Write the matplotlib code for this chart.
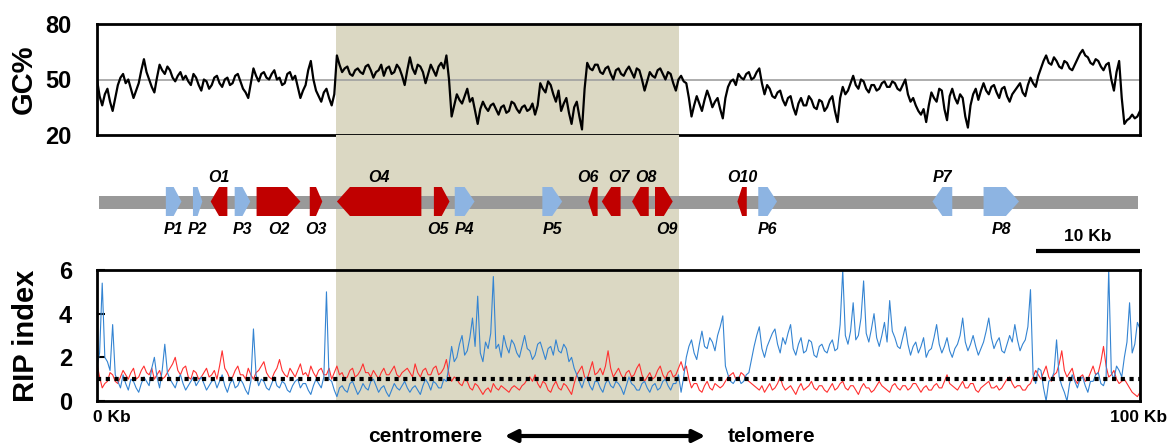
import numpy as np
import matplotlib
matplotlib.use('Agg')
import matplotlib.pyplot as plt
from matplotlib.patches import Polygon, Rectangle, FancyArrowPatch

plt.rcParams['font.family'] = ['Liberation Sans', 'DejaVu Sans']
plt.rcParams['font.weight'] = 'bold'

W, H = 1168, 445

# ---- data -------------------------------------------------------------
# GC% every 0.25 Kb (0 .. 100 Kb), one row = 10 Kb
gc = [50, 41, 36, 42, 45, 38, 33, 40, 47, 51, 53, 48, 50, 45, 40, 44, 48, 55, 61, 54,
      50, 46, 43, 51, 58, 55, 53, 57, 55, 51, 49, 52, 54, 50, 52, 49, 47, 53, 51, 47,
      44, 50, 49, 45, 47, 51, 52, 48, 46, 50, 51, 47, 48, 52, 53, 49, 45, 43, 40, 48,
      56, 52, 49, 53, 54, 51, 50, 53, 55, 50, 51, 47, 48, 53, 54, 50, 52, 46, 40, 44,
      47, 55, 60, 50, 44, 41, 38, 43, 45, 40, 36, 42, 63, 58, 54, 56, 57, 53, 52, 55,
      56, 54, 53, 57, 58, 55, 51, 54, 55, 58, 52, 56, 57, 53, 54, 58, 56, 52, 47, 55,
      62, 56, 53, 58, 57, 54, 48, 53, 58, 55, 52, 57, 59, 56, 63, 50, 30, 36, 42, 39,
      37, 41, 45, 38, 40, 33, 26, 34, 38, 35, 33, 36, 37, 34, 31, 35, 36, 32, 33, 38,
      37, 34, 32, 35, 36, 33, 34, 37, 31, 36, 48, 45, 43, 49, 47, 42, 38, 44, 33, 37,
      40, 32, 26, 35, 38, 30, 23, 45, 59, 56, 55, 58, 58, 54, 53, 56, 57, 53, 50, 55,
      56, 53, 52, 55, 57, 54, 51, 56, 55, 50, 44, 49, 54, 52, 51, 55, 56, 53, 50, 54,
      53, 48, 44, 50, 52, 49, 48, 40, 30, 36, 41, 37, 33, 39, 44, 40, 35, 38, 40, 34,
      29, 40, 46, 49, 50, 47, 53, 51, 50, 53, 54, 50, 51, 54, 56, 48, 42, 47, 45, 41,
      40, 43, 44, 39, 36, 40, 41, 35, 31, 37, 40, 36, 36, 41, 39, 35, 34, 39, 38, 33,
      35, 39, 41, 33, 27, 40, 46, 42, 44, 48, 52, 47, 45, 50, 49, 45, 43, 47, 47, 44,
      45, 48, 49, 46, 46, 49, 48, 45, 44, 47, 50, 42, 38, 40, 36, 33, 31, 34, 27, 36,
      43, 40, 38, 45, 44, 34, 28, 41, 45, 40, 37, 42, 40, 30, 24, 36, 42, 45, 39, 44,
      48, 44, 42, 46, 47, 43, 40, 45, 46, 41, 38, 42, 44, 46, 48, 43, 41, 47, 51, 48,
      46, 52, 56, 60, 63, 59, 58, 62, 60, 57, 56, 60, 59, 56, 55, 58, 61, 64, 66, 63,
      62, 59, 58, 61, 60, 57, 55, 58, 59, 50, 44, 54, 60, 40, 26, 28, 29, 31, 29, 30,
      33]

# RIP index every 0.25 Kb (blue and red series)
rip_blue = [1.6, 2.2, 5.4, 2.0, 1.8, 1.4, 3.5, 1.2, 0.9, 0.6, 1.2, 0.8, 0.5, 1.0, 0.9, 0.6, 0.4, 0.8, 1.1, 0.9,
            0.7, 1.5, 2.0, 1.1, 0.6, 1.4, 2.6, 1.3, 1.0, 0.8, 0.6, 1.0, 1.2, 0.8, 0.5, 0.7, 0.9, 1.1, 0.7, 0.9,
            1.1, 0.8, 0.5, 0.7, 0.9, 1.0, 0.6, 0.9, 1.2, 0.7, 0.4, 0.8, 1.0, 0.6, 0.7, 1.0, 0.8, 0.5, 0.3, 0.9,
            3.3, 1.2, 0.7, 1.0, 0.9, 0.6, 0.5, 0.8, 1.1, 0.7, 0.6, 0.9, 0.8, 0.5, 0.4, 0.7, 0.9, 1.0, 0.6, 0.8,
            0.8, 0.5, 0.3, 0.7, 1.0, 0.8, 0.6, 1.1, 5.0, 1.0, 0.9, 0.5, 0.2, 0.6, 0.7, 0.5, 0.4, 0.8, 0.9, 0.6,
            0.3, 0.5, 0.8, 0.6, 0.5, 0.9, 1.0, 0.7, 0.4, 0.6, 0.7, 0.4, 0.2, 0.5, 0.8, 0.6, 0.5, 0.7, 0.9, 0.6,
            0.4, 0.6, 0.7, 0.5, 0.3, 0.7, 1.0, 0.8, 0.5, 0.9, 0.8, 0.6, 0.6, 1.0, 0.9, 1.6, 2.5, 1.8, 2.0, 2.6,
            3.0, 2.1, 2.3, 2.9, 3.8, 2.5, 4.8, 2.2, 1.8, 2.7, 2.4, 3.1, 5.7, 2.4, 2.6, 2.0, 3.0, 2.5, 2.2, 2.8,
            2.6, 2.2, 2.0, 2.5, 3.0, 2.4, 2.3, 1.9, 2.1, 2.6, 2.7, 2.3, 1.9, 2.4, 2.5, 2.1, 2.8, 2.3, 2.2, 2.6,
            2.4, 1.8, 2.0, 1.5, 1.2, 0.9, 0.6, 1.0, 1.1, 0.7, 0.5, 0.9, 0.9, 0.6, 0.4, 0.8, 1.0, 0.7, 0.6, 0.9,
            0.8, 0.6, 0.3, 0.7, 1.1, 0.8, 0.7, 0.5, 0.5, 0.8, 0.9, 0.6, 0.4, 0.7, 0.8, 0.5, 0.6, 0.9, 1.0, 0.7,
            0.5, 0.8, 0.8, 1.2, 0.4, 1.1, 2.0, 2.5, 2.8, 2.2, 1.9, 2.6, 3.2, 2.5, 2.4, 2.9, 2.7, 2.3, 3.0, 3.4,
            3.9, 1.6, 1.2, 0.9, 0.8, 1.0, 1.1, 0.8, 0.9, 1.2, 1.3, 1.9, 2.5, 3.0, 3.4, 2.4, 2.0, 2.5, 2.8, 3.1,
            3.3, 2.6, 2.2, 2.9, 2.6, 3.1, 3.5, 2.4, 2.1, 2.6, 2.9, 2.2, 2.3, 2.8, 2.7, 2.1, 2.0, 2.5, 2.6, 2.3,
            2.2, 2.6, 2.8, 2.3, 2.4, 3.5, 6.0, 3.0, 2.6, 3.2, 4.5, 2.8, 3.0, 3.8, 5.5, 3.1, 2.7, 3.3, 4.0, 2.9,
            2.5, 3.0, 3.6, 2.7, 4.6, 3.2, 2.9, 2.5, 2.4, 2.9, 3.4, 2.6, 2.1, 2.5, 2.7, 2.2, 2.5, 2.9, 2.0, 2.3,
            2.4, 2.9, 3.5, 2.6, 2.2, 2.5, 2.9, 2.3, 2.0, 2.4, 2.6, 3.0, 3.8, 2.7, 2.3, 2.6, 3.0, 2.5, 2.1, 2.4,
            2.7, 3.2, 3.8, 2.9, 2.4, 2.7, 2.9, 2.3, 2.2, 2.6, 3.0, 2.7, 3.5, 2.8, 2.3, 2.6, 2.8, 3.4, 5.1, 1.2,
            0.8, 1.5, 1.4, 0.6, 0.0, 0.9, 1.0, 1.3, 2.8, 1.1, 0.7, 0.4, 0.0, 0.8, 1.2, 0.9, 0.6, 1.0, 1.1, 0.7,
            0.4, 0.9, 0.9, 1.2, 1.3, 0.8, 0.7, 1.1, 6.0, 1.3, 1.0, 1.6, 1.4, 1.1, 2.0, 2.7, 4.5, 2.2, 2.6, 3.6,
            3.3]
rip_red = [1.7, 1.1, 0.6, 0.8, 0.9, 1.3, 1.2, 0.9, 0.8, 1.1, 1.4, 1.2, 1.0, 1.3, 1.5, 1.0, 1.1, 1.4, 1.6, 1.3,
           1.2, 1.5, 1.0, 1.2, 1.4, 1.0, 1.1, 1.3, 1.5, 1.7, 2.0, 1.4, 1.2, 1.5, 1.6, 1.1, 1.0, 1.4, 1.3, 1.0,
           1.1, 1.3, 1.5, 1.1, 1.2, 1.4, 1.0, 1.6, 2.3, 1.5, 1.3, 1.0, 1.1, 1.4, 1.6, 1.2, 1.2, 1.0, 1.5, 1.2,
           1.0, 1.3, 1.4, 1.6, 1.8, 1.3, 1.1, 1.0, 1.3, 1.5, 1.9, 1.4, 1.2, 1.1, 1.5, 1.3, 1.1, 1.4, 1.7, 1.2,
           1.3, 1.1, 1.6, 1.3, 1.1, 1.4, 1.5, 1.2, 1.2, 1.5, 1.0, 1.3, 1.6, 1.2, 1.3, 1.0, 1.1, 1.4, 1.5, 1.1,
           1.2, 1.4, 1.7, 1.3, 1.3, 1.1, 1.4, 1.2, 1.0, 1.3, 1.5, 1.2, 1.2, 1.4, 1.6, 1.2, 1.1, 1.3, 1.4, 1.5,
           1.3, 1.1, 1.7, 1.3, 1.1, 1.4, 1.5, 1.2, 1.2, 1.5, 1.6, 1.2, 1.3, 1.5, 1.9, 1.2, 0.9, 1.1, 1.0, 0.8,
           0.7, 1.0, 0.9, 0.6, 0.5, 0.8, 0.7, 0.5, 0.3, 0.5, 0.6, 0.4, 0.8, 0.6, 0.5, 0.7, 0.6, 0.5, 0.4, 0.6,
           0.7, 0.6, 0.5, 0.7, 0.8, 1.0, 1.1, 0.9, 1.2, 0.8, 0.6, 0.9, 0.8, 0.5, 0.4, 0.7, 0.9, 0.6, 0.5, 0.8,
           0.7, 0.5, 0.3, 0.8, 1.2, 1.4, 1.6, 1.1, 1.0, 1.4, 1.8, 1.2, 1.3, 1.5, 1.2, 1.6, 2.3, 1.5, 1.1, 1.3,
           1.5, 1.2, 1.0, 1.3, 1.4, 1.1, 1.2, 1.5, 1.7, 1.2, 0.9, 1.1, 1.3, 1.0, 1.1, 1.4, 1.6, 1.2, 1.0, 1.3,
           1.4, 1.1, 1.2, 1.5, 1.8, 1.4, 1.6, 1.0, 0.6, 0.8, 0.8, 0.5, 0.4, 0.7, 0.9, 0.6, 0.5, 0.8, 0.7, 0.6,
           0.7, 0.9, 1.1, 1.2, 1.3, 1.0, 1.0, 1.3, 1.2, 1.0, 0.9, 0.8, 0.7, 0.6, 0.5, 0.7, 0.4, 0.6, 0.8, 0.5,
           0.6, 0.8, 1.1, 0.7, 0.5, 0.6, 0.7, 0.5, 0.3, 0.6, 0.8, 0.5, 0.6, 0.7, 0.9, 0.6, 0.5, 0.7, 0.7, 0.5,
           0.4, 0.6, 0.8, 0.5, 0.6, 0.8, 0.9, 0.6, 0.5, 0.7, 0.7, 0.5, 0.3, 0.6, 0.8, 0.6, 0.6, 0.4, 0.5, 0.7,
           0.9, 0.7, 0.6, 0.5, 0.4, 0.7, 0.8, 0.6, 0.5, 0.7, 0.7, 0.5, 0.6, 0.8, 0.8, 0.6, 0.4, 0.6, 0.7, 0.5,
           0.5, 0.7, 0.8, 0.6, 0.6, 0.9, 1.2, 0.8, 0.7, 0.6, 0.5, 0.7, 0.9, 0.6, 0.6, 0.8, 0.8, 0.5, 0.4, 0.6,
           0.7, 0.8, 0.9, 0.6, 0.6, 0.7, 0.5, 0.6, 0.8, 1.0, 1.1, 0.8, 0.6, 0.7, 0.7, 0.5, 0.5, 0.7, 0.8, 1.1,
           1.4, 1.2, 1.0, 1.3, 1.6, 1.1, 0.9, 1.2, 1.3, 1.7, 2.3, 1.4, 1.1, 1.3, 1.5, 1.0, 0.8, 1.1, 1.2, 0.9,
           1.0, 1.3, 1.6, 1.2, 1.3, 1.8, 2.5, 1.6, 1.1, 1.2, 1.4, 1.0, 0.8, 0.9, 1.0, 0.8, 0.6, 0.4, 0.3, 0.2,
           0.4]
pos_kb = np.arange(len(gc)) * 0.25
assert len(gc) == len(rip_blue) == len(rip_red) == 401

# genes: name, start (Kb), end (Kb), strand
gene_names = ['P1', 'P2', 'O1', 'P3', 'O2', 'O3', 'O4', 'O5', 'P4', 'P5',
              'O6', 'O7', 'O8', 'O9', 'O10', 'P6', 'P7', 'P8']
gene_start = [6.6, 9.2, 10.9, 13.2, 15.3, 20.4, 23.0, 32.3, 34.3, 42.7,
              47.1, 48.4, 51.3, 53.5, 61.4, 63.4, 80.1, 85.0]
gene_end = [8.1, 10.1, 12.5, 14.7, 19.5, 21.6, 31.1, 33.8, 36.2, 44.6,
            48.0, 50.2, 52.9, 55.2, 62.3, 65.2, 82.0, 88.4]
gene_strand = [1, 1, -1, 1, 1, 1, -1, 1, 1, 1, -1, -1, -1, 1, -1, 1, -1, 1]
label_above = ['O1', 'O4', 'O6', 'O7', 'O8', 'O10', 'P7']
label_nudge = {'O6': -0.5, 'O7': 0.7, 'O8': 0.5, 'O5': -0.4, 'O9': 0.3}

centro = (22.9, 55.8)

# ---- figure -------------------------------------------------------------
fig = plt.figure(figsize=(W / 100, H / 100), dpi=100)

def box(x0, y0, x1, y1):
    return [x0 / W, 1 - y1 / H, (x1 - x0) / W, (y1 - y0) / H]

beige = '#dbd8c3'

# GC panel
ax1 = fig.add_axes(box(97, 24, 1140, 135))
ax1.axvspan(*centro, color=beige, lw=0, zorder=0)
ax1.axhline(50, color='#a0a0a0', lw=1.2, zorder=1)
ax1.plot(pos_kb, gc, color='black', lw=1.6, zorder=2)
ax1.set_xlim(0, 100)
ax1.set_ylim(20, 80)
ax1.set_yticks([20, 50, 80])
ax1.set_xticks([])
ax1.tick_params(axis='y', length=0, pad=18, labelsize=17)
ax1.set_ylabel('GC%', fontsize=21, fontweight='bold')
for s in ax1.spines.values():
    s.set_linewidth(2)

# gene map (y in figure pixels)
ax2 = fig.add_axes(box(97, 135, 1140, 270))
ax2.set_xlim(0, 100)
ax2.set_ylim(270, 135)
ax2.axis('off')
ax2.axvspan(*centro, color=beige, lw=0, zorder=0)
ax2.add_patch(Rectangle((0.2, 196), 99.6, 13, color='#999999', lw=0, zorder=1))
y0, y1, yc = 187, 216, 201.5
for name, a, b, st in zip(gene_names, gene_start, gene_end, gene_strand):
    head = min(1.25, 0.5 * (b - a))
    col = '#8db4e2' if name[0] == 'P' else '#c00000'
    if st > 0:
        pts = [(a, y0), (b - head, y0), (b, yc), (b - head, y1), (a, y1)]
    else:
        pts = [(b, y0), (a + head, y0), (a, yc), (a + head, y1), (b, y1)]
    ax2.add_patch(Polygon(pts, closed=True, color=col, lw=0, zorder=2))
    ty = 177 if name in label_above else 229
    ax2.text((a + b) / 2 + label_nudge.get(name, 0), ty, name, ha='center', va='center',
             fontsize=11.5, fontweight='bold', fontstyle='italic')
# scale bar 10 Kb
ax2.plot([90.0, 100.0], [251, 251], color='black', lw=3, solid_capstyle='butt')
ax2.text(95.0, 236, '10 Kb', ha='center', va='center', fontsize=12.5, fontweight='bold')

# RIP panel
ax3 = fig.add_axes(box(97, 270, 1140, 401))
ax3.axvspan(*centro, color=beige, lw=0, zorder=0)
ax3.plot(pos_kb, rip_red, color='#ff3030', lw=0.8, zorder=2)
ax3.plot(pos_kb, rip_blue, color='#3484d2', lw=0.8, zorder=3)
ax3.axhline(1, color='black', lw=3, ls=(0, (1, 1.1)), zorder=4)
ax3.set_xlim(0, 100)
ax3.set_ylim(0, 6)
ax3.set_yticks([0, 2, 4, 6])
ax3.set_xticks([])
ax3.tick_params(axis='y', direction='in', length=6, width=1.5, pad=18, labelsize=17)
ax3.set_ylabel('RIP index', fontsize=21, fontweight='bold')
for s in ax3.spines.values():
    s.set_linewidth(2)
    s.set_zorder(5)

ax1.yaxis.set_label_coords(-0.057, 0.5)
ax3.yaxis.set_label_coords(-0.055, 0.5)

# text below
fig.text(93 / W, 1 - 418 / H, '0 Kb', ha='left', va='center', fontsize=12.5, fontweight='bold')
fig.text(1139 / W, 1 - 418 / H, '100 Kb', ha='center', va='center', fontsize=12.5, fontweight='bold')
fig.text(482 / W, 1 - 436 / H, 'centromere', ha='right', va='center', fontsize=15, fontweight='bold')
fig.text(728 / W, 1 - 436 / H, 'telomere', ha='left', va='center', fontsize=15, fontweight='bold')
fig.patches.append(FancyArrowPatch(
    (502 / W, 1 - 436 / H), (708 / W, 1 - 436 / H), transform=fig.transFigure,
    arrowstyle='<|-|>', mutation_scale=18, lw=3, color='black'))

fig.savefig('out.png', dpi=100)
